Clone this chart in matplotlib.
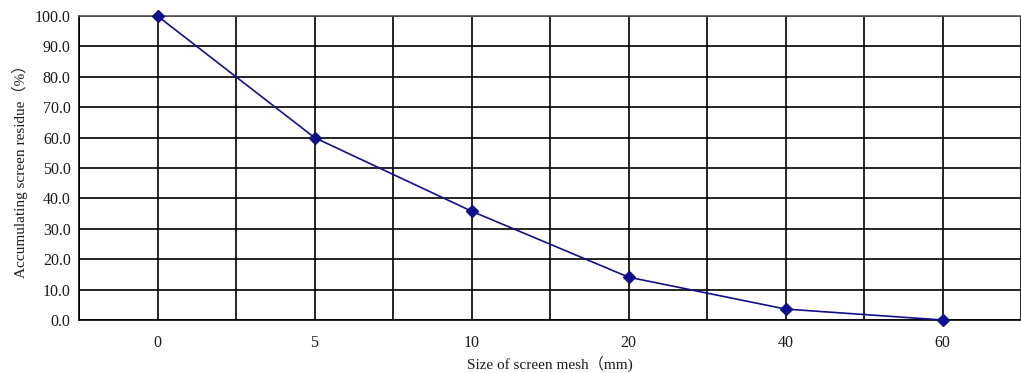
import matplotlib
matplotlib.use("Agg")
import matplotlib.pyplot as plt
import numpy as np

categories = ["0", "5", "10", "20", "40", "60"]
residue = [100.0, 60.0, 35.8, 14.1, 3.6, 0.0]
y_ticks = [0, 10, 20, 30, 40, 50, 60, 70, 80, 90, 100]

plt.rcParams['font.family'] = ['Liberation Serif', 'Noto Sans CJK SC']

fig = plt.figure(figsize=(10.21, 3.73), dpi=100)
ax = fig.add_axes([79/1021, 53/373, 1 - 79/1021, 304/373])

x = np.arange(len(categories))
ax.plot(x, residue, color='#10108a', lw=1.2, marker='D', markersize=6.5,
        markerfacecolor='#10108a', markeredgecolor='#10108a', zorder=5, clip_on=False)

ax.set_xlim(-0.5, (1021 - 158) / 158.6)
ax.set_ylim(0, 100)
ax.set_xticks(x)
ax.set_xticklabels(categories)
ax.set_xticks(np.arange(-0.5, len(categories), 1.0), minor=True)
ax.set_yticks(y_ticks)
ax.set_yticklabels([f"{v:.1f}" for v in y_ticks])

ax.grid(True, which='both', axis='x', color='black', lw=1.2)
ax.grid(True, which='major', axis='y', color='black', lw=1.2)
ax.tick_params(which='both', length=0)
ax.tick_params(axis='x', pad=11, labelsize=11.5, colors='#1a1a1a')
ax.tick_params(axis='y', pad=6, labelsize=11.5, colors='#1a1a1a')
ax.spines['right'].set_visible(False)
for s in ['left', 'bottom', 'top']:
    ax.spines[s].set_color('black')
    ax.spines[s].set_linewidth(1.2)
ax.spines['top'].set_color('#555555')

ax.set_xlabel("Size of screen mesh（mm)", fontsize=11, labelpad=3, color='#1a1a1a')
ax.set_ylabel("Accumulating screen residue（%）", fontsize=11, labelpad=5, color='#1a1a1a')

fig.savefig("out.png", dpi=100)
